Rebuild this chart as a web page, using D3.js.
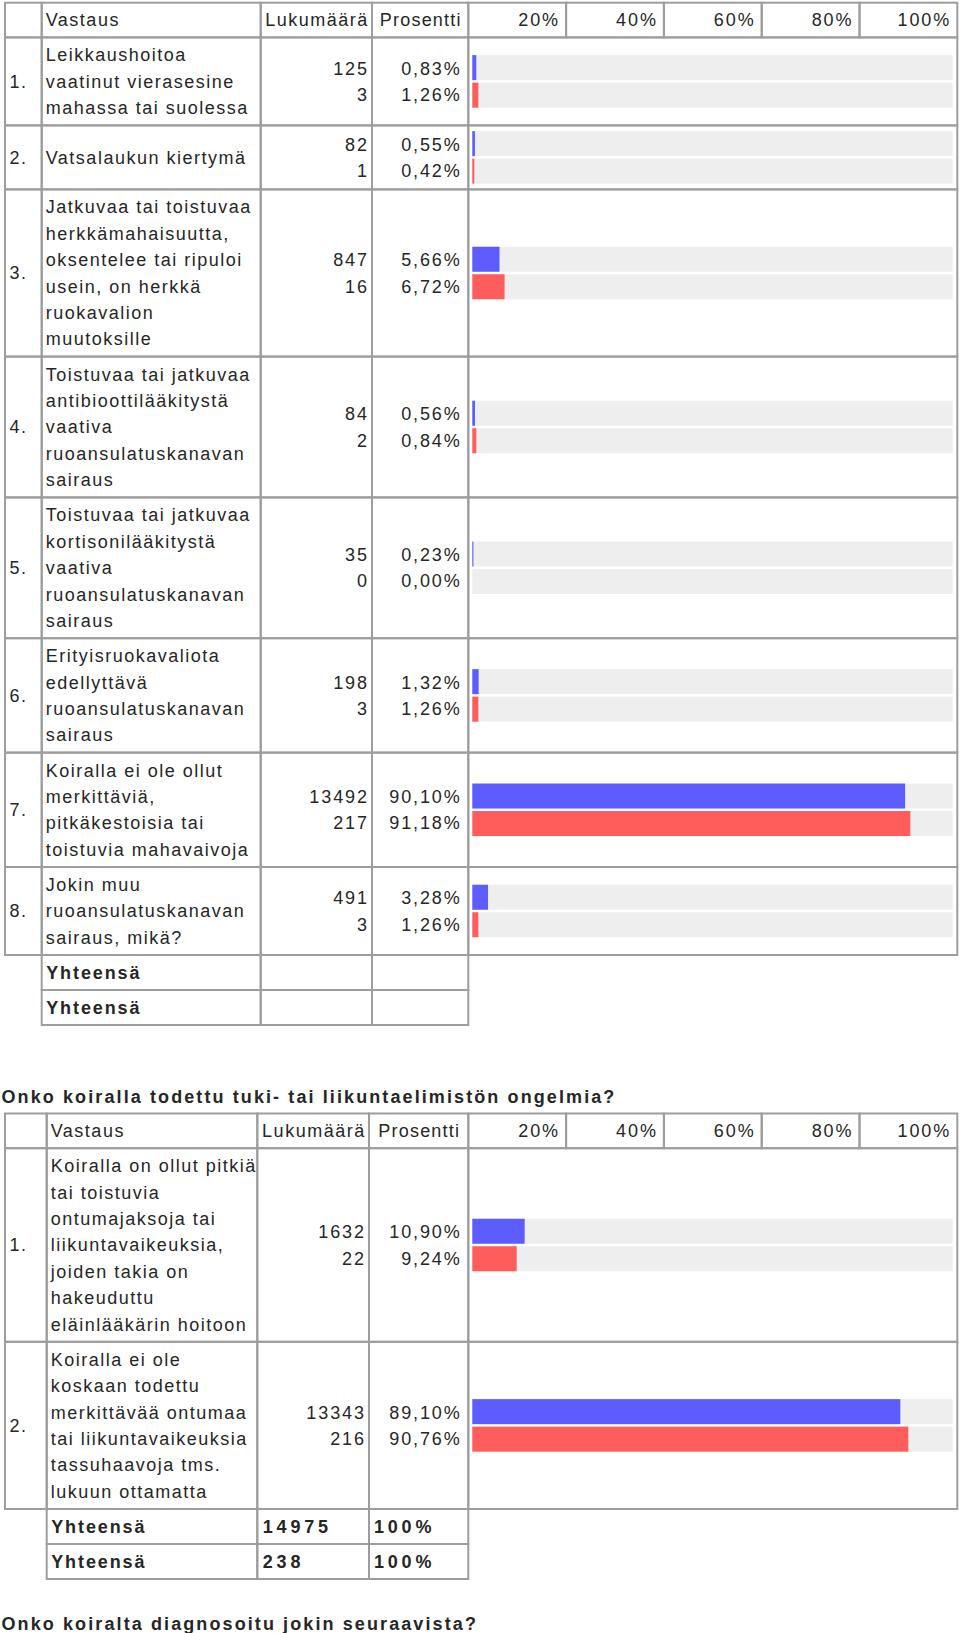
<!DOCTYPE html>
<meta charset="utf-8">
<style>
  body { margin: 0; background: #fff; }
  text { font-family: "Liberation Sans", Arial, sans-serif; fill: #262626; font-size: 18px; }
</style>
<script src="https://d3js.org/d3.v7.min.js"></script>
<body>
<div id="chart"></div>
<script>
  // first question (its title is above the photographed area)
  var answers1 = [
    ["Leikkaushoitoa", "vaatinut vierasesine", "mahassa tai suolessa"],
    ["Vatsalaukun kiertymä"],
    ["Jatkuvaa tai toistuvaa", "herkkämahaisuutta,", "oksentelee tai ripuloi", "usein, on herkkä", "ruokavalion", "muutoksille"],
    ["Toistuvaa tai jatkuvaa", "antibioottilääkitystä", "vaativa", "ruoansulatuskanavan", "sairaus"],
    ["Toistuvaa tai jatkuvaa", "kortisonilääkitystä", "vaativa", "ruoansulatuskanavan", "sairaus"],
    ["Erityisruokavaliota", "edellyttävä", "ruoansulatuskanavan", "sairaus"],
    ["Koiralla ei ole ollut", "merkittäviä,", "pitkäkestoisia tai", "toistuvia mahavaivoja"],
    ["Jokin muu", "ruoansulatuskanavan", "sairaus, mikä?"]
  ]
  var countBlue1 = [125, 82, 847, 84, 35, 198, 13492, 491]
  var pctBlue1 = [0.83, 0.55, 5.66, 0.56, 0.23, 1.32, 90.10, 3.28]
  var countRed1 = [3, 1, 16, 2, 0, 3, 217, 3]
  var pctRed1 = [1.26, 0.42, 6.72, 0.84, 0.00, 1.26, 91.18, 1.26]
  var totalCount1 = ["", ""]
  var totalPct1 = ["", ""]

  // second question
  var title2 = "Onko koiralla todettu tuki- tai liikuntaelimistön ongelmia?"
  var answers2 = [
    ["Koiralla on ollut pitkiä", "tai toistuvia", "ontumajaksoja tai", "liikuntavaikeuksia,", "joiden takia on", "hakeuduttu", "eläinlääkärin hoitoon"],
    ["Koiralla ei ole", "koskaan todettu", "merkittävää ontumaa", "tai liikuntavaikeuksia", "tassuhaavoja tms.", "lukuun ottamatta"]
  ]
  var countBlue2 = [1632, 13343]
  var pctBlue2 = [10.90, 89.10]
  var countRed2 = [22, 216]
  var pctRed2 = [9.24, 90.76]
  var totalCount2 = ["14975", "238"]
  var totalPct2 = ["100%", "100%"]

  // next question title at the bottom
  var title3 = "Onko koiralta diagnosoitu jokin seuraavista?"

  var ticks = [20, 40, 60, 80, 100]
  var headers = ["Vastaus", "Lukumäärä", "Prosentti"]
  var totalLabel = "Yhteensä"

  // layout
  var lineH = 26.4, pad = 8.8, minRowH = 64, headH = 34.7, totalH = 35
  var barH = 25, barGap = 2.5
  var ls = 1.5, lsNum = 1.9, lsBold = 1.9, lsTitle = 2.1, lsBoldNum = 3.8
  var border = "#9d9d9d"
  var blue = "#5c5cff", red = "#ff5c5c", track = "#eeeeee"

  var svg = d3.select("#chart").append("svg")
    .attr("width", 960)
    .attr("height", 1633)

  var fmtPct = function(v) { return d3.format(".2f")(v).replace(".", ",") + "%" }

  // text with letter spacing; trailing spacing is compensated for end/middle anchors
  function label(g, x, y, str, anchor, bold, spacing) {
    var shift = anchor == "end" ? spacing : (anchor == "middle" ? spacing / 2 : 0)
    return g.append("text")
      .attr("x", x + shift)
      .attr("y", y)
      .attr("dy", "0.35em")
      .attr("text-anchor", anchor)
      .style("letter-spacing", spacing + "px")
      .style("font-weight", bold ? "bold" : "normal")
      .text(str)
  }

  function cell(g, x0, x1, y0, y1) {
    g.append("rect")
      .attr("x", x0).attr("y", y0)
      .attr("width", x1 - x0).attr("height", y1 - y0)
      .attr("fill", "none")
      .attr("stroke", border)
      .attr("stroke-width", 2)
  }

  function drawTable(top, cols, answers, cBlue, pBlue, cRed, pRed, tCount, tPct) {
    var g = svg.append("g")
    // bar scale and the header grid scale
    var x = d3.scaleLinear().domain([0, 100]).range([cols[4] + 4, cols[5] - 4.6])
    var hx = d3.scaleLinear().domain([0, 100]).range([cols[4], cols[5]])

    // header row
    var y0 = top, y1 = top + headH, yc = (y0 + y1) / 2
    for (var c = 0; c < 4; c++) cell(g, cols[c], cols[c + 1], y0, y1)
    label(g, cols[1] + 4, yc, headers[0], "start", false, ls)
    label(g, (cols[2] + cols[3]) / 2, yc, headers[1], "middle", false, ls)
    label(g, (cols[3] + cols[4]) / 2, yc, headers[2], "middle", false, 1.2)
    ticks.forEach(function(t, i) {
      var a = i == 0 ? cols[4] : hx(ticks[i - 1])
      cell(g, a, hx(t), y0, y1)
      label(g, hx(t) - 8, yc, t + "%", "end", false, lsNum)
    })

    // answer rows
    var y = y1
    answers.forEach(function(lines, i) {
      var h = Math.max(lines.length * lineH + pad, minRowH)
      var yc = y + h / 2
      for (var c = 0; c < 5; c++) cell(g, cols[c], cols[c + 1], y, y + h)
      label(g, cols[0] + 4.5, yc, (i + 1) + ".", "start", false, ls)
      lines.forEach(function(s, j) {
        label(g, cols[1] + 4, yc + (j - (lines.length - 1) / 2) * lineH, s, "start", false, ls)
      })
      label(g, cols[3] - 5, yc - lineH / 2, cBlue[i], "end", false, lsNum)
      label(g, cols[3] - 5, yc + lineH / 2, cRed[i], "end", false, lsNum)
      label(g, cols[4] - 8.5, yc - lineH / 2, fmtPct(pBlue[i]), "end", false, lsNum)
      label(g, cols[4] - 8.5, yc + lineH / 2, fmtPct(pRed[i]), "end", false, lsNum)

      var bars = [
        { y: yc - barGap / 2 - barH, v: pBlue[i], color: blue },
        { y: yc + barGap / 2, v: pRed[i], color: red }
      ]
      g.selectAll(null).data(bars).enter().append("rect")
        .attr("x", x(0)).attr("y", function(d) { return d.y })
        .attr("width", x(100) - x(0)).attr("height", barH)
        .attr("fill", track)
      g.selectAll(null).data(bars).enter().append("rect")
        .attr("x", x(0)).attr("y", function(d) { return d.y })
        .attr("width", function(d) { return x(d.v) - x(0) }).attr("height", barH)
        .attr("fill", function(d) { return d.color })
      y += h
    })

    // totals
    tCount.forEach(function(v, i) {
      var yc = y + totalH / 2
      for (var c = 1; c < 4; c++) cell(g, cols[c], cols[c + 1], y, y + totalH)
      label(g, cols[1] + 4.5, yc, totalLabel, "start", true, lsBold)
      label(g, cols[2] + 5.5, yc, v, "start", true, lsBoldNum)
      label(g, cols[3] + 5, yc, tPct[i], "start", true, lsBoldNum)
      y += totalH
    })
    return y
  }

  var end1 = drawTable(2.7, [5, 41.7, 260.7, 372, 468.3, 957.3],
    answers1, countBlue1, pctBlue1, countRed1, pctRed1, totalCount1, totalPct1)

  var top2 = end1 + 88.5
  label(svg, 1.5, top2 - 17, title2, "start", true, lsTitle)

  var end2 = drawTable(top2, [5, 46.7, 257.3, 369, 468.3, 957.3],
    answers2, countBlue2, pctBlue2, countRed2, pctRed2, totalCount2, totalPct2)

  label(svg, 1.5, end2 + 45, title3, "start", true, lsTitle)
</script>
</body>
